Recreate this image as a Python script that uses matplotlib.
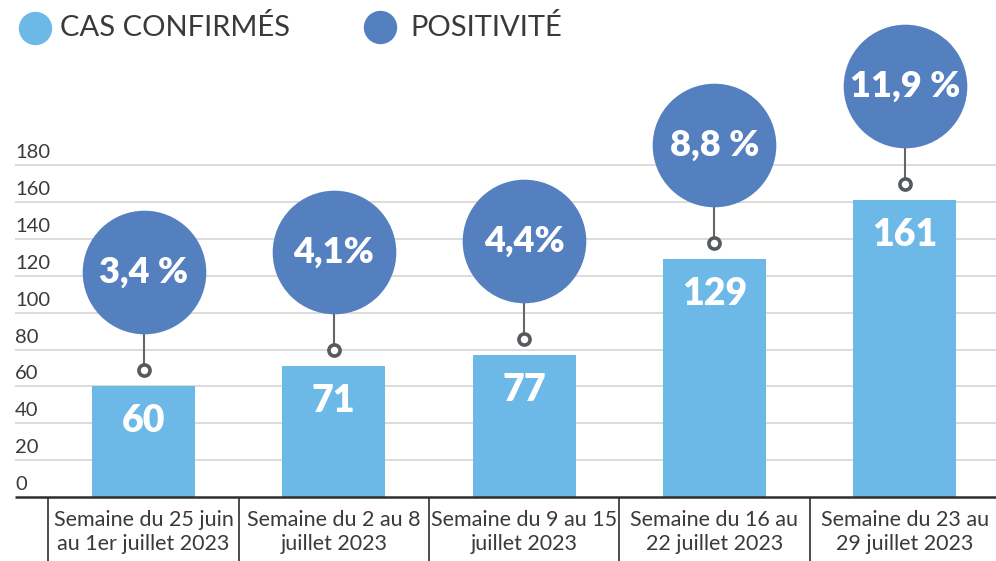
import matplotlib
matplotlib.use("Agg")
import matplotlib.pyplot as plt
import numpy as np

# données
weeks = [
    "Semaine du 25 juin\nau 1er juillet 2023",
    "Semaine du 2 au 8\njuillet 2023",
    "Semaine du 9 au 15\njuillet 2023",
    "Semaine du 16 au\n22 juillet 2023",
    "Semaine du 23 au\n29 juillet 2023",
]
cases = [60, 71, 77, 129, 161]
positivity = [3.4, 4.1, 4.4, 8.8, 11.9]
pos_labels = ["3,4 %", "4,1%", "4,4%", "8,8 %", "11,9 %"]
yticks = list(range(0, 181, 20))

BAR_COLOR = "#6cb9e8"
CIRCLE_COLOR = "#5480bf"
TEXT_COLOR = "#2e2e2e"
GRID_COLOR = "#d9d9d9"
FONT = ["Lato", "DejaVu Sans"]

W, H = 996, 561
fig = plt.figure(figsize=(W / 100, H / 100), dpi=100, facecolor="white")
ax = fig.add_axes([0, 0, 1, 1])
ax.set_axis_off()

# px -> data mapping (bar centers every ~190 px, 20 units ~ 36.9 px)
px_per_x = 190.3
px_per_y = 1.843
x0_px, y0_px = 143.5, 497
ax.set_xlim(-x0_px / px_per_x, (W - x0_px) / px_per_x)
ax.set_ylim(-(H - y0_px) / px_per_y, y0_px / px_per_y)

x = np.arange(len(cases))
left = -(x0_px - 15) / px_per_x
right = ax.get_xlim()[1]

# grille + graduations
for t in yticks[1:]:
    ax.hlines(t, left, right, color=GRID_COLOR, lw=1.3, zorder=1)
for t in yticks:
    ax.text(left, t + 3.8, str(t), ha="left", va="baseline", fontsize=14.5,
            color="#3a3a3a", family=FONT)

# barres
ax.bar(x, cases, width=0.541, color=BAR_COLOR, zorder=2)
for xi, v in zip(x, cases):
    ax.text(xi, v - 19, str(v), ha="center", va="center", fontsize=27,
            fontweight="heavy", color="white", family=FONT, zorder=5)

# bulles de positivité
off_c, off_m = 62, 9
for xi, v, lab in zip(x, cases, pos_labels):
    ax.plot([xi, xi], [v + off_m, v + off_c], color="#666666", lw=1.5, zorder=3)
    ax.plot(xi, v + off_m, "o", ms=8, mfc="white", mec="#555960", mew=2.6, zorder=4)
    ax.scatter(xi, v + off_c, s=89 ** 2, color=CIRCLE_COLOR, zorder=4, linewidths=0)
    ax.text(xi, v + off_c, lab, ha="center", va="center", fontsize=26,
            fontweight="heavy", color="white", family=FONT, zorder=5)

# axe x + cases des libellés
ax.hlines(0, left, right, color=TEXT_COLOR, lw=1.8, zorder=3)
bottom = ax.get_ylim()[0]
ax.vlines(np.arange(len(cases) + 1) - 0.5, bottom, 0, color=TEXT_COLOR, lw=1.2, zorder=3)
for xi, lab in zip(x, weeks):
    ax.text(xi, -19, lab, ha="center", va="center", fontsize=15.5,
            color="#3a3a3a", family=FONT, linespacing=1.25)

# légende
ax.plot(35 / W, 1 - 28 / H, "o", ms=23, color=BAR_COLOR, transform=ax.transAxes, clip_on=False)
ax.text(60 / W, 1 - 28 / H, "CAS CONFIRMÉS", transform=ax.transAxes, ha="left", va="center",
        fontsize=21, color="#3a3a3a", family=FONT)
ax.plot(380 / W, 1 - 27 / H, "o", ms=23, color=CIRCLE_COLOR, transform=ax.transAxes, clip_on=False)
ax.text(410 / W, 1 - 27 / H, "POSITIVITÉ", transform=ax.transAxes, ha="left", va="center",
        fontsize=21, color="#3a3a3a", family=FONT)

fig.savefig("out.png", dpi=100, facecolor="white")
